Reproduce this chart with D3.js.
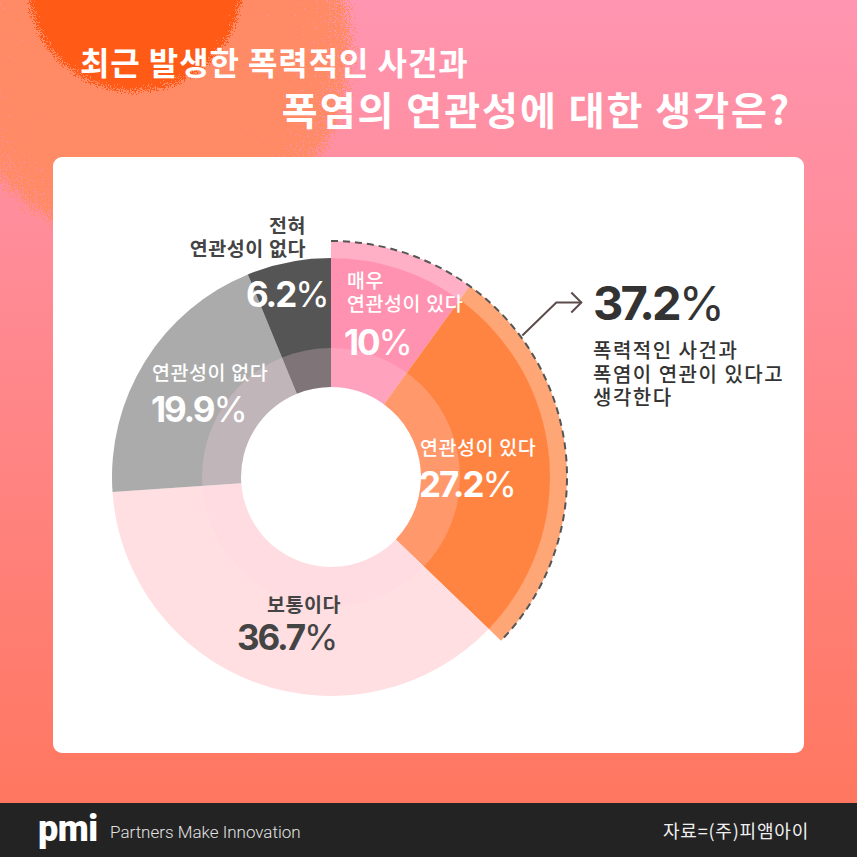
<!DOCTYPE html>
<html><head><meta charset="utf-8">
<script src="https://cdn.jsdelivr.net/npm/d3@7"></script>
<style>html,body{margin:0;padding:0;background:#fff}svg{display:block}</style>
</head><body>
<script>
// ---- data ----
const categories = ["매우 연관성이 있다", "연관성이 있다", "보통이다", "연관성이 없다", "전혀 연관성이 없다"];
const values = [10, 27.2, 36.7, 19.9, 6.2];
const valueLabels = ["10%", "27.2%", "36.7%", "19.9%", "6.2%"];
const highlightIdx = [0, 1];
const highlightTotal = "37.2%";
const highlightText = ["폭력적인 사건과", "폭염이 연관이 있다고", "생각한다"];
const titleLines = ["최근 발생한 폭력적인 사건과", "폭염의 연관성에 대한 생각은?"];
const sourceText = "자료=(주)피앰아이";

const W = 857, H = 857;
const KR = "'Noto Sans CJK KR','Noto Sans',sans-serif";
const NUM = "Inter,'Noto Sans',sans-serif";
const colors = ["#ff92b0", "#ff8442", "#ffdfe1", "#ababab", "#555555"];

const svg = d3.select("body").append("svg").attr("width", W).attr("height", H);
const defs = svg.append("defs");

const bg = defs.append("linearGradient").attr("id", "bg").attr("x1", 0).attr("y1", 0).attr("x2", 0).attr("y2", 1);
bg.append("stop").attr("offset", "0%").attr("stop-color", "#ff95b1");
bg.append("stop").attr("offset", "100%").attr("stop-color", "#ff7760");

function radial(id, color, stops) {
  const g = defs.append("radialGradient").attr("id", id);
  stops.forEach(([o, a]) => g.append("stop").attr("offset", o).attr("stop-color", color).attr("stop-opacity", a));
}
radial("glowG", "#ff8660", [["0%", 0.95], ["70%", 0.78], ["92%", 0.6], ["100%", 0.3]]);
radial("coreG", "#ff5512", [["0%", 1], ["85%", 0.95], ["100%", 0.35]]);

function grain(id, color, seed) {
  const f = defs.append("filter").attr("id", id).attr("x", "-20%").attr("y", "-20%").attr("width", "140%").attr("height", "140%");
  f.append("feTurbulence").attr("type", "fractalNoise").attr("baseFrequency", 0.85).attr("numOctaves", 2).attr("seed", seed).attr("result", "noise");
  f.append("feColorMatrix").attr("in", "noise").attr("type", "matrix")
    .attr("values", "0 0 0 0 0  0 0 0 0 0  0 0 0 0 0  1 0 0 0 0").attr("result", "na");
  f.append("feComposite").attr("in", "SourceAlpha").attr("in2", "na").attr("operator", "arithmetic")
    .attr("k1", 0).attr("k2", 1).attr("k3", 0.9).attr("k4", -0.45).attr("result", "mix");
  const ct = f.append("feComponentTransfer").attr("in", "mix").attr("result", "th");
  ct.append("feFuncA").attr("type", "discrete").attr("tableValues", "0 1");
  f.append("feFlood").attr("flood-color", color).attr("result", "fl");
  f.append("feComposite").attr("in", "fl").attr("in2", "th").attr("operator", "in");
}
grain("grainGlow", "#ff8a66", 4);
grain("grainCore", "#ff5a16", 9);

// background
svg.append("rect").attr("width", W).attr("height", 803).attr("fill", "url(#bg)");
svg.append("circle").attr("cx", 150).attr("cy", 45).attr("r", 210).attr("fill", "url(#glowG)").attr("filter", "url(#grainGlow)");
svg.append("circle").attr("cx", 135).attr("cy", -16).attr("r", 111).attr("fill", "url(#coreG)").attr("filter", "url(#grainCore)");

// title
svg.append("text").attr("x", 80).attr("y", 75).attr("fill", "#fff").attr("font-family", KR)
  .attr("font-weight", 700).attr("font-size", 32).attr("letter-spacing", 0.9).text(titleLines[0]);
svg.append("text").attr("x", 791).attr("y", 125).attr("text-anchor", "end").attr("fill", "#fff").attr("font-family", KR)
  .attr("font-weight", 700).attr("font-size", 39).attr("letter-spacing", 2).text(titleLines[1]);

// card
svg.append("rect").attr("x", 53).attr("y", 157).attr("width", 751).attr("height", 596).attr("rx", 9).attr("fill", "#fff");

// footer
svg.append("rect").attr("y", 803).attr("width", W).attr("height", 54).attr("fill", "#232323");
svg.append("text").attr("x", 38).attr("y", 841).attr("fill", "#fff").attr("font-family", "Roboto,sans-serif")
  .attr("font-weight", 900).attr("font-size", 36).attr("letter-spacing", -0.5).text("pmi");
svg.append("text").attr("x", 110).attr("y", 838).attr("fill", "#e2e2e2").attr("font-family", "Roboto,sans-serif")
  .attr("font-weight", 300).attr("font-size", 17).text("Partners Make Innovation");
svg.append("text").attr("x", 809).attr("y", 838).attr("text-anchor", "end").attr("fill", "#f0f0f0").attr("font-family", KR)
  .attr("font-weight", 400).attr("font-size", 18).attr("letter-spacing", 0.8).text(sourceText);

// donut
const cx = 331, cy = 477, rIn = 90, rOut = 219, rBand = 236, rInner2 = 129;
const g = svg.append("g").attr("transform", `translate(${cx},${cy})`);
const pie = d3.pie().sort(null).value(d => d);
const arcs = pie(values);
const arcMain = d3.arc().innerRadius(rIn).outerRadius(rOut);
const arcBand = d3.arc().innerRadius(rOut - 0.5).outerRadius(rBand);

highlightIdx.forEach(i => {
  g.append("path").attr("d", arcBand(arcs[i])).attr("fill", colors[i]).attr("opacity", 0.72);
});
g.selectAll("path.slice").data(arcs).join("path").attr("class", "slice")
  .attr("d", arcMain).attr("fill", (d, i) => colors[i]);
g.append("path").attr("d", d3.arc().innerRadius(rIn).outerRadius(rInner2)({startAngle: 0, endAngle: 2 * Math.PI}))
  .attr("fill", "#ffd5e2").attr("opacity", 0.25);

// dashed outline of highlighted group
const hEnd = arcs[highlightIdx[highlightIdx.length - 1]].endAngle;
const dp = d3.path();
dp.arc(0, 0, rBand, -Math.PI / 2, hEnd - Math.PI / 2);
g.append("path").attr("d", dp.toString()).attr("fill", "none").attr("stroke", "#555").attr("stroke-width", 2)
  .attr("stroke-dasharray", "7 5");

// arrow
const aAng = 53.5 * Math.PI / 180, aR = rBand + 2;
const p0 = [cx + aR * Math.sin(aAng), cy - aR * Math.cos(aAng)];
const p1 = [p0[0] + 34, p0[1] - 33];
const p2 = [p1[0] + 25, p1[1]];
svg.append("polyline").attr("points", [p0, p1, p2].map(p => p.join(",")).join(" "))
  .attr("fill", "none").attr("stroke", "#5b4b4b").attr("stroke-width", 2);
svg.append("polyline").attr("points", [[p2[0] - 10, p2[1] - 10], p2, [p2[0] - 10, p2[1] + 10]].map(p => p.join(",")).join(" "))
  .attr("fill", "none").attr("stroke", "#5b4b4b").attr("stroke-width", 2);

// highlight text
function pct(sel, label, size, fill) {
  const t = sel.attr("font-family", NUM).attr("fill", fill).attr("font-size", size);
  t.append("tspan").attr("font-weight", 700).attr("letter-spacing", -size * 0.06).text(label.replace("%", ""));
  t.append("tspan").attr("font-weight", 400).text("%");
  return t;
}
pct(svg.append("text").attr("x", 593).attr("y", 320), highlightTotal, 47, "#333");
highlightText.forEach((s, i) => {
  svg.append("text").attr("x", 593).attr("y", 358 + i * 23.5).attr("fill", "#333").attr("font-family", KR)
    .attr("font-weight", 500).attr("font-size", 20).attr("letter-spacing", 1.5).text(s);
});

// slice labels (layout: label lines, anchor, positions)
const labelLayout = [
  {lines: ["매우", "연관성이 있다"], x: 347, y: 288, px: 344, py: 355, color: "#fff", anchor: "start"},
  {lines: ["연관성이 있다"], x: 420, y: 455, px: 419, py: 497, color: "#fff", anchor: "start"},
  {lines: ["보통이다"], x: 267, y: 612, px: 237, py: 650, color: "#444", anchor: "start"},
  {lines: ["연관성이 없다"], x: 152, y: 380, px: 151, py: 422, color: "#fff", anchor: "start"},
  {lines: ["전혀", "연관성이 없다"], x: 306, y: 233, px: 246, py: 307, color: "#444", anchor: "end", pcolor: "#fff"},
];
labelLayout.forEach((L, i) => {
  L.lines.forEach((s, j) => {
    svg.append("text").attr("x", L.x).attr("y", L.y + j * 23).attr("text-anchor", L.anchor)
      .attr("fill", L.color).attr("font-family", KR).attr("font-weight", L.color === "#fff" ? 500 : 700)
      .attr("font-size", 19.5).attr("letter-spacing", 0.6).text(s);
  });
  pct(svg.append("text").attr("x", L.px).attr("y", L.py), valueLabels[i], 35, L.pcolor || L.color);
});
</script>
</body></html>
